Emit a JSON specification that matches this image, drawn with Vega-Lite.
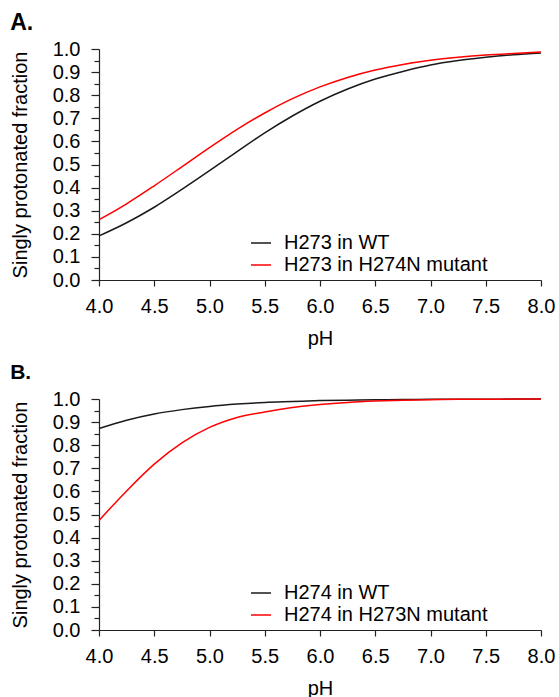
{
  "$schema": "https://vega.github.io/schema/vega-lite/v6.json",
  "padding": {"left": 10, "top": 12, "right": 5, "bottom": 5},
  "background": "white",
  "datasets": {
    "a": [
      {"series": "H273 in WT", "pH": 4.0, "f": 0.191},
      {"series": "H273 in WT", "pH": 4.25, "f": 0.248},
      {"series": "H273 in WT", "pH": 4.5, "f": 0.315},
      {"series": "H273 in WT", "pH": 4.75, "f": 0.392},
      {"series": "H273 in WT", "pH": 5.0, "f": 0.473},
      {"series": "H273 in WT", "pH": 5.25, "f": 0.556},
      {"series": "H273 in WT", "pH": 5.5, "f": 0.637},
      {"series": "H273 in WT", "pH": 5.75, "f": 0.71},
      {"series": "H273 in WT", "pH": 6.0, "f": 0.774},
      {"series": "H273 in WT", "pH": 6.25, "f": 0.827},
      {"series": "H273 in WT", "pH": 6.5, "f": 0.87},
      {"series": "H273 in WT", "pH": 6.75, "f": 0.903},
      {"series": "H273 in WT", "pH": 7.0, "f": 0.931},
      {"series": "H273 in WT", "pH": 7.25, "f": 0.95},
      {"series": "H273 in WT", "pH": 7.5, "f": 0.964},
      {"series": "H273 in WT", "pH": 7.75, "f": 0.975},
      {"series": "H273 in WT", "pH": 8.0, "f": 0.983},
      {"series": "H273 in H274N mutant", "pH": 4.0, "f": 0.261},
      {"series": "H273 in H274N mutant", "pH": 4.25, "f": 0.33},
      {"series": "H273 in H274N mutant", "pH": 4.5, "f": 0.408},
      {"series": "H273 in H274N mutant", "pH": 4.75, "f": 0.49},
      {"series": "H273 in H274N mutant", "pH": 5.0, "f": 0.573},
      {"series": "H273 in H274N mutant", "pH": 5.25, "f": 0.652},
      {"series": "H273 in H274N mutant", "pH": 5.5, "f": 0.723},
      {"series": "H273 in H274N mutant", "pH": 5.75, "f": 0.785},
      {"series": "H273 in H274N mutant", "pH": 6.0, "f": 0.836},
      {"series": "H273 in H274N mutant", "pH": 6.25, "f": 0.877},
      {"series": "H273 in H274N mutant", "pH": 6.5, "f": 0.909},
      {"series": "H273 in H274N mutant", "pH": 6.75, "f": 0.933},
      {"series": "H273 in H274N mutant", "pH": 7.0, "f": 0.951},
      {"series": "H273 in H274N mutant", "pH": 7.25, "f": 0.964},
      {"series": "H273 in H274N mutant", "pH": 7.5, "f": 0.974},
      {"series": "H273 in H274N mutant", "pH": 7.75, "f": 0.981},
      {"series": "H273 in H274N mutant", "pH": 8.0, "f": 0.987}
    ],
    "b": [
      {"series": "H274 in WT", "pH": 4.0, "f": 0.872},
      {"series": "H274 in WT", "pH": 4.25, "f": 0.908},
      {"series": "H274 in WT", "pH": 4.5, "f": 0.935},
      {"series": "H274 in WT", "pH": 4.75, "f": 0.954},
      {"series": "H274 in WT", "pH": 5.0, "f": 0.968},
      {"series": "H274 in WT", "pH": 5.25, "f": 0.978},
      {"series": "H274 in WT", "pH": 5.5, "f": 0.985},
      {"series": "H274 in WT", "pH": 5.75, "f": 0.989},
      {"series": "H274 in WT", "pH": 6.0, "f": 0.993},
      {"series": "H274 in WT", "pH": 6.25, "f": 0.995},
      {"series": "H274 in WT", "pH": 6.5, "f": 0.9965},
      {"series": "H274 in WT", "pH": 6.75, "f": 0.9976},
      {"series": "H274 in WT", "pH": 7.0, "f": 0.9984},
      {"series": "H274 in WT", "pH": 7.25, "f": 0.9989},
      {"series": "H274 in WT", "pH": 7.5, "f": 0.9992},
      {"series": "H274 in WT", "pH": 7.75, "f": 0.9995},
      {"series": "H274 in WT", "pH": 8.0, "f": 0.9996},
      {"series": "H274 in H273N mutant", "pH": 4.0, "f": 0.474},
      {"series": "H274 in H273N mutant", "pH": 4.25, "f": 0.602},
      {"series": "H274 in H273N mutant", "pH": 4.5, "f": 0.718},
      {"series": "H274 in H273N mutant", "pH": 4.75, "f": 0.81},
      {"series": "H274 in H273N mutant", "pH": 5.0, "f": 0.877},
      {"series": "H274 in H273N mutant", "pH": 5.25, "f": 0.92},
      {"series": "H274 in H273N mutant", "pH": 5.5, "f": 0.944},
      {"series": "H274 in H273N mutant", "pH": 5.75, "f": 0.963},
      {"series": "H274 in H273N mutant", "pH": 6.0, "f": 0.976},
      {"series": "H274 in H273N mutant", "pH": 6.25, "f": 0.985},
      {"series": "H274 in H273N mutant", "pH": 6.5, "f": 0.991},
      {"series": "H274 in H273N mutant", "pH": 6.75, "f": 0.995},
      {"series": "H274 in H273N mutant", "pH": 7.0, "f": 0.997},
      {"series": "H274 in H273N mutant", "pH": 7.25, "f": 0.9985},
      {"series": "H274 in H273N mutant", "pH": 7.5, "f": 0.9992},
      {"series": "H274 in H273N mutant", "pH": 7.75, "f": 0.9995},
      {"series": "H274 in H273N mutant", "pH": 8.0, "f": 0.9997}
    ]
  },
  "config": {
    "font": "Liberation Sans",
    "view": {"stroke": null},
    "axis": {
      "labelFont": "Liberation Sans",
      "titleFont": "Liberation Sans",
      "labelFontSize": 20,
      "titleFontSize": 20,
      "titleFontWeight": "normal",
      "labelColor": "#000",
      "titleColor": "#000",
      "domainColor": "#222",
      "tickColor": "#222",
      "domainWidth": 1.2,
      "tickWidth": 1.2,
      "grid": false
    },
    "legend": {
      "labelFont": "Liberation Sans",
      "labelFontSize": 20,
      "labelColor": "#000",
      "labelLimit": 0,
      "symbolType": "stroke",
      "symbolSize": 400,
      "symbolStrokeWidth": 1.5,
      "labelOffset": 12,
      "rowPadding": 1,
      "padding": 0,
      "orient": "none",
      "legendX": 151,
      "legendY": 183,
      "title": null
    },
    "title": {
      "font": "Liberation Sans",
      "fontWeight": "bold",
      "anchor": "start",
      "frame": "bounds",
      "color": "#000",
      "offset": 4
    }
  },
  "resolve": {"scale": {"color": "independent"}, "legend": {"color": "independent"}},
  "spacing": 14,
  "vconcat": [
    {
      "title": {"text": "A.", "fontSize": 23},
      "width": 442,
      "height": 231,
      "data": {"name": "a"},
      "mark": {"type": "line", "strokeWidth": 1.5, "interpolate": "monotone"},
      "encoding": {
        "x": {
          "field": "pH", "type": "quantitative",
          "scale": {"domain": [4, 8], "nice": false, "zero": false},
          "axis": {"title": "pH", "values": [4, 4.5, 5, 5.5, 6, 6.5, 7, 7.5, 8], "format": ".1f", "tickSize": 6, "labelPadding": 10, "titlePadding": 12, "labelFlush": false}
        },
        "y": {
          "field": "f", "type": "quantitative",
          "scale": {"domain": [0, 1], "nice": false},
          "axis": {
            "title": "Singly protonated fraction",
            "values": [0, 0.05, 0.1, 0.15, 0.2, 0.25, 0.3, 0.35, 0.4, 0.45, 0.5, 0.55, 0.6, 0.65, 0.7, 0.75, 0.8, 0.85, 0.9, 0.95, 1.0],
            "labelExpr": "abs(datum.value*10 - round(datum.value*10)) < 0.001 ? format(datum.value, '.1f') : ''",
            "tickSize": {"condition": {"test": "abs(datum.value*10 - round(datum.value*10)) < 0.001", "value": 8}, "value": 5},
            "labelOverlap": false,
            "labelFlush": false,
            "labelPadding": 11,
            "titlePadding": 22
          }
        },
        "color": {
          "field": "series", "type": "nominal",
          "scale": {"domain": ["H273 in WT", "H273 in H274N mutant"], "range": ["#1a1a1a", "#ff0000"]}
        }
      }
    },
    {
      "title": {"text": "B.", "fontSize": 21, "offset": 6},
      "width": 442,
      "height": 231,
      "data": {"name": "b"},
      "mark": {"type": "line", "strokeWidth": 1.5, "interpolate": "monotone"},
      "encoding": {
        "x": {
          "field": "pH", "type": "quantitative",
          "scale": {"domain": [4, 8], "nice": false, "zero": false},
          "axis": {"title": "pH", "values": [4, 4.5, 5, 5.5, 6, 6.5, 7, 7.5, 8], "format": ".1f", "tickSize": 6, "labelPadding": 10, "titlePadding": 12, "labelFlush": false}
        },
        "y": {
          "field": "f", "type": "quantitative",
          "scale": {"domain": [0, 1], "nice": false},
          "axis": {
            "title": "Singly protonated fraction",
            "values": [0, 0.05, 0.1, 0.15, 0.2, 0.25, 0.3, 0.35, 0.4, 0.45, 0.5, 0.55, 0.6, 0.65, 0.7, 0.75, 0.8, 0.85, 0.9, 0.95, 1.0],
            "labelExpr": "abs(datum.value*10 - round(datum.value*10)) < 0.001 ? format(datum.value, '.1f') : ''",
            "tickSize": {"condition": {"test": "abs(datum.value*10 - round(datum.value*10)) < 0.001", "value": 8}, "value": 5},
            "labelOverlap": false,
            "labelFlush": false,
            "labelPadding": 11,
            "titlePadding": 22
          }
        },
        "color": {
          "field": "series", "type": "nominal",
          "scale": {"domain": ["H274 in WT", "H274 in H273N mutant"], "range": ["#1a1a1a", "#ff0000"]}
        }
      }
    }
  ]
}
